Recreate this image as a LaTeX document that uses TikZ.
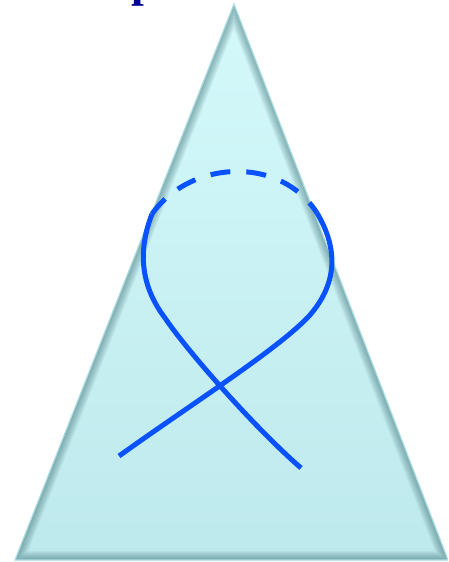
\documentclass[tikz,border=0pt]{standalone}
\usepackage{fontspec}
\newfontfamily\titlefont{Liberation Serif}
\definecolor{ribbon}{RGB}{10,82,255}
\definecolor{conetop}{RGB}{212,249,251}
\definecolor{conebot}{RGB}{190,233,236}
\definecolor{coneshadow}{RGB}{60,110,115}
\definecolor{coneedge}{RGB}{170,222,226}
\definecolor{titleblue}{RGB}{0,0,150}
\tikzset{
  strand/.style={draw=ribbon, line width=5pt, line cap=butt},
  hidden/.style={strand, dash pattern=on 20pt off 16pt},
}
\begin{document}
\begin{tikzpicture}[x=1pt,y=-1pt]
\useasboundingbox (0,0) rectangle (448,562);
\clip (0,0) rectangle (448,562);
% cut-off title letter
\node[anchor=base, text=titleblue, inner sep=0pt, font=\titlefont\bfseries\fontsize{46}{50}\selectfont] (title) at (144,-3) {p};
% cone
\coordinate (apex) at (234,4);
\coordinate (bl) at (15,560);
\coordinate (br) at (448,560);
\shade[top color=conetop, bottom color=conebot] (apex) -- (br) -- (bl) -- cycle;
\begin{scope}
  \clip (apex) -- (br) -- (bl) -- cycle;
  \foreach \w in {2,4,...,18}{
    \draw[coneshadow, line width=\w pt, opacity=0.07, line join=miter] (apex) -- (br) -- (bl) -- cycle;
  }
\end{scope}
\draw[coneedge, line width=1.2pt, line join=miter] (apex) -- (br) -- (bl) -- cycle;
% ribbon
\coordinate (lt) at (152,214);
\coordinate (rt) at (317,213);
\coordinate (lm) at (165,318);
\coordinate (rm) at (310,315);
\coordinate (le) at (119,456);
\coordinate (re) at (301,468);
\draw[hidden] (lt) .. controls (190,160) and (280,155) .. (rt);
\draw[strand] (rt) .. controls (336,245) and (340,280) .. (rm)
              .. controls (280,348) and (190,405) .. (le);
\draw[strand] (lt) .. controls (138,250) and (140,285) .. (lm)
              .. controls (188,352) and (255,428) .. (re);
\end{tikzpicture}
\end{document}
